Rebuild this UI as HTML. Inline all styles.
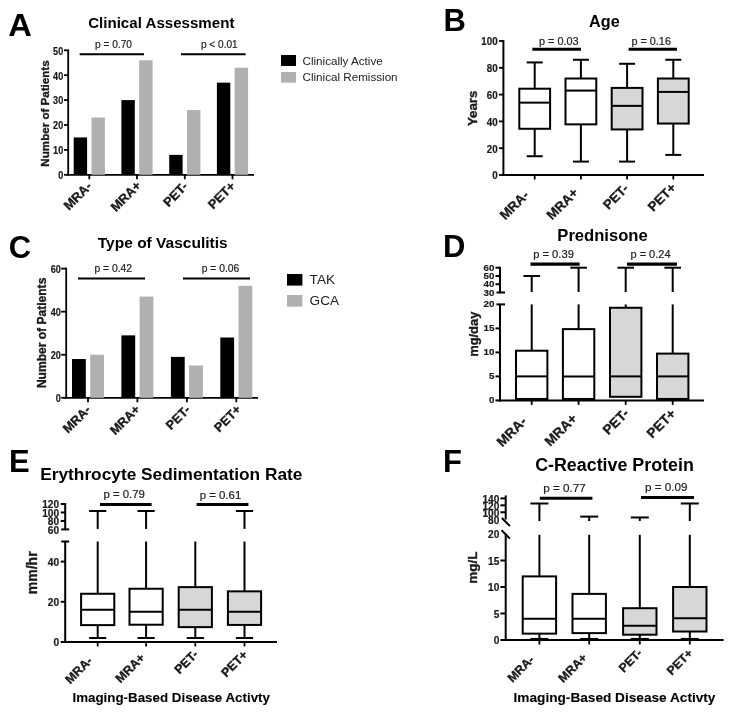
<!DOCTYPE html>
<html><head><meta charset="utf-8"><style>
html,body{margin:0;padding:0;background:#fff;}
svg{display:block;font-family:"Liberation Sans", sans-serif;-webkit-font-smoothing:antialiased;will-change:transform;}
</style></head><body>
<svg width="733" height="715" viewBox="0 0 733 715">
<rect x="0" y="0" width="733" height="715" fill="#fff"/>
<text transform="translate(8.3 36.2) scale(1.055 1)" font-size="31" font-weight="bold" fill="#000">A</text>
<text x="161.30" y="27.60" font-size="15.1" font-weight="bold" text-anchor="middle" fill="#000">Clinical Assessment</text>
<line x1="68.20" y1="49.40" x2="68.20" y2="175.70" stroke="#000" stroke-width="1.8"/>
<line x1="67.30" y1="174.80" x2="254.00" y2="174.80" stroke="#000" stroke-width="1.8"/>
<line x1="64.00" y1="50.30" x2="68.20" y2="50.30" stroke="#000" stroke-width="1.8"/>
<text transform="translate(63.20 54.60) scale(0.91 1)" font-size="10.0" font-weight="bold" text-anchor="end" fill="#1a1a1a" stroke="#1a1a1a" stroke-width="0.2">50</text>
<line x1="64.00" y1="75.20" x2="68.20" y2="75.20" stroke="#000" stroke-width="1.8"/>
<text transform="translate(63.20 79.50) scale(0.91 1)" font-size="10.0" font-weight="bold" text-anchor="end" fill="#1a1a1a" stroke="#1a1a1a" stroke-width="0.2">40</text>
<line x1="64.00" y1="100.10" x2="68.20" y2="100.10" stroke="#000" stroke-width="1.8"/>
<text transform="translate(63.20 104.40) scale(0.91 1)" font-size="10.0" font-weight="bold" text-anchor="end" fill="#1a1a1a" stroke="#1a1a1a" stroke-width="0.2">30</text>
<line x1="64.00" y1="125.00" x2="68.20" y2="125.00" stroke="#000" stroke-width="1.8"/>
<text transform="translate(63.20 129.30) scale(0.91 1)" font-size="10.0" font-weight="bold" text-anchor="end" fill="#1a1a1a" stroke="#1a1a1a" stroke-width="0.2">20</text>
<line x1="64.00" y1="149.90" x2="68.20" y2="149.90" stroke="#000" stroke-width="1.8"/>
<text transform="translate(63.20 154.20) scale(0.91 1)" font-size="10.0" font-weight="bold" text-anchor="end" fill="#1a1a1a" stroke="#1a1a1a" stroke-width="0.2">10</text>
<line x1="64.00" y1="174.80" x2="68.20" y2="174.80" stroke="#000" stroke-width="1.8"/>
<text transform="translate(63.20 179.10) scale(0.91 1)" font-size="10.0" font-weight="bold" text-anchor="end" fill="#1a1a1a" stroke="#1a1a1a" stroke-width="0.2">0</text>
<text x="49.20" y="113.50" font-size="11.6" font-weight="bold" text-anchor="middle" fill="#1a1a1a" stroke="#1a1a1a" stroke-width="0.35" transform="rotate(-90 49.20 113.50)">Number of Patients</text>
<rect x="73.70" y="137.45" width="13.40" height="37.35" fill="#000"/>
<rect x="91.50" y="117.53" width="13.40" height="57.27" fill="#b0b0b2"/>
<rect x="121.40" y="100.10" width="13.40" height="74.70" fill="#000"/>
<rect x="139.20" y="60.26" width="13.40" height="114.54" fill="#b0b0b2"/>
<rect x="169.20" y="154.88" width="13.40" height="19.92" fill="#000"/>
<rect x="187.00" y="110.06" width="13.40" height="64.74" fill="#b0b0b2"/>
<rect x="216.90" y="82.67" width="13.40" height="92.13" fill="#000"/>
<rect x="234.70" y="67.73" width="13.40" height="107.07" fill="#b0b0b2"/>
<line x1="89.30" y1="174.80" x2="89.30" y2="179.30" stroke="#000" stroke-width="1.8"/>
<text x="92.60" y="187.10" font-size="12.8" font-weight="bold" text-anchor="end" fill="#1a1a1a" stroke="#1a1a1a" stroke-width="0.35" transform="rotate(-45 92.60 187.10)">MRA-</text>
<line x1="137.00" y1="174.80" x2="137.00" y2="179.30" stroke="#000" stroke-width="1.8"/>
<text x="141.80" y="186.40" font-size="12.8" font-weight="bold" text-anchor="end" fill="#1a1a1a" stroke="#1a1a1a" stroke-width="0.35" transform="rotate(-45 141.80 186.40)">MRA+</text>
<line x1="184.80" y1="174.80" x2="184.80" y2="179.30" stroke="#000" stroke-width="1.8"/>
<text x="188.50" y="187.30" font-size="12.8" font-weight="bold" text-anchor="end" fill="#1a1a1a" stroke="#1a1a1a" stroke-width="0.35" transform="rotate(-45 188.50 187.30)">PET-</text>
<line x1="232.50" y1="174.80" x2="232.50" y2="179.30" stroke="#000" stroke-width="1.8"/>
<text x="236.10" y="186.90" font-size="12.8" font-weight="bold" text-anchor="end" fill="#1a1a1a" stroke="#1a1a1a" stroke-width="0.35" transform="rotate(-45 236.10 186.90)">PET+</text>
<line x1="79.60" y1="54.20" x2="144.00" y2="54.20" stroke="#000" stroke-width="2"/>
<line x1="181.00" y1="54.20" x2="245.60" y2="54.20" stroke="#000" stroke-width="2"/>
<text x="113.50" y="47.90" font-size="10.1" font-weight="normal" text-anchor="middle" fill="#222" stroke="#222" stroke-width="0.2">p = 0.70</text>
<text x="219.30" y="47.90" font-size="10.1" font-weight="normal" text-anchor="middle" fill="#222" stroke="#222" stroke-width="0.2">p &lt; 0.01</text>
<rect x="281.00" y="55.00" width="15.00" height="11.00" fill="#000"/>
<rect x="281.00" y="72.00" width="15.00" height="10.60" fill="#b0b0b2"/>
<text x="302.50" y="65.00" font-size="11.65" font-weight="normal" text-anchor="start" fill="#222">Clinically Active</text>
<text x="302.50" y="81.20" font-size="11.65" font-weight="normal" text-anchor="start" fill="#222">Clinical Remission</text>
<text x="443.50" y="31.20" font-size="31" font-weight="bold" text-anchor="start" fill="#000">B</text>
<text x="604.40" y="26.60" font-size="16.2" font-weight="bold" text-anchor="middle" fill="#000">Age</text>
<line x1="503.40" y1="40.10" x2="503.40" y2="175.90" stroke="#000" stroke-width="2"/>
<line x1="502.40" y1="175.00" x2="704.00" y2="175.00" stroke="#000" stroke-width="2"/>
<line x1="499.00" y1="41.00" x2="503.40" y2="41.00" stroke="#000" stroke-width="1.8"/>
<text transform="translate(497.70 45.30) scale(0.98 1)" font-size="10.0" font-weight="bold" text-anchor="end" fill="#1a1a1a" stroke="#1a1a1a" stroke-width="0.2">100</text>
<line x1="499.00" y1="67.80" x2="503.40" y2="67.80" stroke="#000" stroke-width="1.8"/>
<text transform="translate(497.70 72.10) scale(0.98 1)" font-size="10.0" font-weight="bold" text-anchor="end" fill="#1a1a1a" stroke="#1a1a1a" stroke-width="0.2">80</text>
<line x1="499.00" y1="94.60" x2="503.40" y2="94.60" stroke="#000" stroke-width="1.8"/>
<text transform="translate(497.70 98.90) scale(0.98 1)" font-size="10.0" font-weight="bold" text-anchor="end" fill="#1a1a1a" stroke="#1a1a1a" stroke-width="0.2">60</text>
<line x1="499.00" y1="121.40" x2="503.40" y2="121.40" stroke="#000" stroke-width="1.8"/>
<text transform="translate(497.70 125.70) scale(0.98 1)" font-size="10.0" font-weight="bold" text-anchor="end" fill="#1a1a1a" stroke="#1a1a1a" stroke-width="0.2">40</text>
<line x1="499.00" y1="148.20" x2="503.40" y2="148.20" stroke="#000" stroke-width="1.8"/>
<text transform="translate(497.70 152.50) scale(0.98 1)" font-size="10.0" font-weight="bold" text-anchor="end" fill="#1a1a1a" stroke="#1a1a1a" stroke-width="0.2">20</text>
<line x1="499.00" y1="175.00" x2="503.40" y2="175.00" stroke="#000" stroke-width="1.8"/>
<text transform="translate(497.70 179.30) scale(0.98 1)" font-size="10.0" font-weight="bold" text-anchor="end" fill="#1a1a1a" stroke="#1a1a1a" stroke-width="0.2">0</text>
<text x="477.20" y="108.30" font-size="13.3" font-weight="bold" text-anchor="middle" fill="#1a1a1a" stroke="#1a1a1a" stroke-width="0.35" transform="rotate(-90 477.20 108.30)">Years</text>
<line x1="534.70" y1="88.70" x2="534.70" y2="62.44" stroke="#000" stroke-width="2"/>
<line x1="526.70" y1="62.44" x2="542.70" y2="62.44" stroke="#000" stroke-width="2"/>
<line x1="534.70" y1="128.77" x2="534.70" y2="156.24" stroke="#000" stroke-width="2"/>
<line x1="526.70" y1="156.24" x2="542.70" y2="156.24" stroke="#000" stroke-width="2"/>
<rect x="519.30" y="88.70" width="30.80" height="40.07" fill="#fff" stroke="#000" stroke-width="2.0"/>
<line x1="519.30" y1="102.64" x2="550.10" y2="102.64" stroke="#000" stroke-width="2.0"/>
<line x1="580.90" y1="78.52" x2="580.90" y2="59.76" stroke="#000" stroke-width="2"/>
<line x1="572.90" y1="59.76" x2="588.90" y2="59.76" stroke="#000" stroke-width="2"/>
<line x1="580.90" y1="124.35" x2="580.90" y2="161.60" stroke="#000" stroke-width="2"/>
<line x1="572.90" y1="161.60" x2="588.90" y2="161.60" stroke="#000" stroke-width="2"/>
<rect x="565.50" y="78.52" width="30.80" height="45.83" fill="#fff" stroke="#000" stroke-width="2.0"/>
<line x1="565.50" y1="90.58" x2="596.30" y2="90.58" stroke="#000" stroke-width="2.0"/>
<line x1="627.10" y1="87.90" x2="627.10" y2="63.78" stroke="#000" stroke-width="2"/>
<line x1="619.10" y1="63.78" x2="635.10" y2="63.78" stroke="#000" stroke-width="2"/>
<line x1="627.10" y1="129.44" x2="627.10" y2="161.60" stroke="#000" stroke-width="2"/>
<line x1="619.10" y1="161.60" x2="635.10" y2="161.60" stroke="#000" stroke-width="2"/>
<rect x="611.70" y="87.90" width="30.80" height="41.54" fill="#d7d7d7" stroke="#000" stroke-width="2.0"/>
<line x1="611.70" y1="105.86" x2="642.50" y2="105.86" stroke="#000" stroke-width="2.0"/>
<line x1="673.30" y1="78.52" x2="673.30" y2="59.76" stroke="#000" stroke-width="2"/>
<line x1="665.30" y1="59.76" x2="681.30" y2="59.76" stroke="#000" stroke-width="2"/>
<line x1="673.30" y1="123.54" x2="673.30" y2="154.90" stroke="#000" stroke-width="2"/>
<line x1="665.30" y1="154.90" x2="681.30" y2="154.90" stroke="#000" stroke-width="2"/>
<rect x="657.90" y="78.52" width="30.80" height="45.02" fill="#d7d7d7" stroke="#000" stroke-width="2.0"/>
<line x1="657.90" y1="91.92" x2="688.70" y2="91.92" stroke="#000" stroke-width="2.0"/>
<line x1="534.70" y1="175.00" x2="534.70" y2="179.50" stroke="#000" stroke-width="1.8"/>
<text x="529.70" y="196.00" font-size="13.3" font-weight="bold" text-anchor="end" fill="#1a1a1a" stroke="#1a1a1a" stroke-width="0.35" transform="rotate(-45 529.70 196.00)">MRA-</text>
<line x1="580.90" y1="175.00" x2="580.90" y2="179.50" stroke="#000" stroke-width="1.8"/>
<text x="579.00" y="193.60" font-size="13.3" font-weight="bold" text-anchor="end" fill="#1a1a1a" stroke="#1a1a1a" stroke-width="0.35" transform="rotate(-45 579.00 193.60)">MRA+</text>
<line x1="627.10" y1="175.00" x2="627.10" y2="179.50" stroke="#000" stroke-width="1.8"/>
<text x="629.40" y="189.40" font-size="13.3" font-weight="bold" text-anchor="end" fill="#1a1a1a" stroke="#1a1a1a" stroke-width="0.35" transform="rotate(-45 629.40 189.40)">PET-</text>
<line x1="673.30" y1="175.00" x2="673.30" y2="179.50" stroke="#000" stroke-width="1.8"/>
<text x="677.10" y="188.40" font-size="13.3" font-weight="bold" text-anchor="end" fill="#1a1a1a" stroke="#1a1a1a" stroke-width="0.35" transform="rotate(-45 677.10 188.40)">PET+</text>
<line x1="532.40" y1="49.30" x2="581.00" y2="49.30" stroke="#000" stroke-width="3"/>
<line x1="628.60" y1="49.30" x2="677.00" y2="49.30" stroke="#000" stroke-width="3"/>
<text x="558.80" y="44.50" font-size="10.85" font-weight="normal" text-anchor="middle" fill="#222" stroke="#222" stroke-width="0.2">p = 0.03</text>
<text x="651.20" y="44.50" font-size="10.85" font-weight="normal" text-anchor="middle" fill="#222" stroke="#222" stroke-width="0.2">p = 0.16</text>
<text x="8.70" y="258.20" font-size="31" font-weight="bold" text-anchor="start" fill="#000">C</text>
<text x="162.70" y="247.60" font-size="15.5" font-weight="bold" text-anchor="middle" fill="#000">Type of Vasculitis</text>
<line x1="66.20" y1="267.70" x2="66.20" y2="398.70" stroke="#000" stroke-width="1.8"/>
<line x1="65.30" y1="397.80" x2="258.00" y2="397.80" stroke="#000" stroke-width="1.8"/>
<line x1="61.20" y1="268.60" x2="66.20" y2="268.60" stroke="#000" stroke-width="1.8"/>
<text transform="translate(60.80 272.90) scale(0.91 1)" font-size="10.0" font-weight="bold" text-anchor="end" fill="#1a1a1a" stroke="#1a1a1a" stroke-width="0.2">60</text>
<line x1="61.20" y1="311.67" x2="66.20" y2="311.67" stroke="#000" stroke-width="1.8"/>
<text transform="translate(60.80 315.97) scale(0.91 1)" font-size="10.0" font-weight="bold" text-anchor="end" fill="#1a1a1a" stroke="#1a1a1a" stroke-width="0.2">40</text>
<line x1="61.20" y1="354.73" x2="66.20" y2="354.73" stroke="#000" stroke-width="1.8"/>
<text transform="translate(60.80 359.03) scale(0.91 1)" font-size="10.0" font-weight="bold" text-anchor="end" fill="#1a1a1a" stroke="#1a1a1a" stroke-width="0.2">20</text>
<line x1="61.20" y1="397.80" x2="66.20" y2="397.80" stroke="#000" stroke-width="1.8"/>
<text transform="translate(60.80 402.10) scale(0.91 1)" font-size="10.0" font-weight="bold" text-anchor="end" fill="#1a1a1a" stroke="#1a1a1a" stroke-width="0.2">0</text>
<text x="46.50" y="332.90" font-size="12.05" font-weight="bold" text-anchor="middle" fill="#1a1a1a" stroke="#1a1a1a" stroke-width="0.35" transform="rotate(-90 46.50 332.90)">Number of Patients</text>
<rect x="72.00" y="359.04" width="13.80" height="38.76" fill="#000"/>
<rect x="90.20" y="354.73" width="13.80" height="43.07" fill="#b0b0b2"/>
<rect x="121.40" y="335.35" width="13.80" height="62.45" fill="#000"/>
<rect x="139.60" y="296.59" width="13.80" height="101.21" fill="#b0b0b2"/>
<rect x="170.90" y="356.89" width="13.80" height="40.91" fill="#000"/>
<rect x="189.10" y="365.50" width="13.80" height="32.30" fill="#b0b0b2"/>
<rect x="220.30" y="337.51" width="13.80" height="60.29" fill="#000"/>
<rect x="238.50" y="285.83" width="13.80" height="111.97" fill="#b0b0b2"/>
<line x1="88.00" y1="397.80" x2="88.00" y2="402.30" stroke="#000" stroke-width="1.8"/>
<text x="91.30" y="410.60" font-size="12.6" font-weight="bold" text-anchor="end" fill="#1a1a1a" stroke="#1a1a1a" stroke-width="0.35" transform="rotate(-45 91.30 410.60)">MRA-</text>
<line x1="137.40" y1="397.80" x2="137.40" y2="402.30" stroke="#000" stroke-width="1.8"/>
<text x="140.70" y="410.10" font-size="12.6" font-weight="bold" text-anchor="end" fill="#1a1a1a" stroke="#1a1a1a" stroke-width="0.35" transform="rotate(-45 140.70 410.10)">MRA+</text>
<line x1="186.90" y1="397.80" x2="186.90" y2="402.30" stroke="#000" stroke-width="1.8"/>
<text x="190.90" y="410.60" font-size="12.6" font-weight="bold" text-anchor="end" fill="#1a1a1a" stroke="#1a1a1a" stroke-width="0.35" transform="rotate(-45 190.90 410.60)">PET-</text>
<line x1="236.30" y1="397.80" x2="236.30" y2="402.30" stroke="#000" stroke-width="1.8"/>
<text x="241.80" y="410.10" font-size="12.6" font-weight="bold" text-anchor="end" fill="#1a1a1a" stroke="#1a1a1a" stroke-width="0.35" transform="rotate(-45 241.80 410.10)">PET+</text>
<line x1="78.00" y1="278.50" x2="145.00" y2="278.50" stroke="#000" stroke-width="2"/>
<line x1="183.00" y1="278.50" x2="250.00" y2="278.50" stroke="#000" stroke-width="2"/>
<text x="113.20" y="272.40" font-size="10.3" font-weight="normal" text-anchor="middle" fill="#222" stroke="#222" stroke-width="0.2">p = 0.42</text>
<text x="220.50" y="272.40" font-size="10.3" font-weight="normal" text-anchor="middle" fill="#222" stroke="#222" stroke-width="0.2">p = 0.06</text>
<rect x="287.00" y="274.00" width="15.40" height="11.60" fill="#000"/>
<rect x="287.00" y="295.00" width="15.40" height="11.60" fill="#b0b0b2"/>
<text x="309.60" y="284.40" font-size="13.6" font-weight="normal" text-anchor="start" fill="#222">TAK</text>
<text x="309.60" y="305.40" font-size="13.6" font-weight="normal" text-anchor="start" fill="#222">GCA</text>
<text x="443.00" y="257.20" font-size="31" font-weight="bold" text-anchor="start" fill="#000">D</text>
<text x="602.50" y="240.50" font-size="16.6" font-weight="bold" text-anchor="middle" fill="#000">Prednisone</text>
<line x1="500.00" y1="266.80" x2="500.00" y2="292.50" stroke="#000" stroke-width="2"/>
<line x1="496.50" y1="292.50" x2="505.00" y2="292.50" stroke="#000" stroke-width="2"/>
<line x1="500.00" y1="304.40" x2="500.00" y2="401.40" stroke="#000" stroke-width="2"/>
<line x1="496.50" y1="304.40" x2="505.00" y2="304.40" stroke="#000" stroke-width="2"/>
<line x1="499.00" y1="400.40" x2="704.00" y2="400.40" stroke="#000" stroke-width="2"/>
<line x1="495.50" y1="267.70" x2="500.00" y2="267.70" stroke="#000" stroke-width="2"/>
<line x1="495.50" y1="275.97" x2="500.00" y2="275.97" stroke="#000" stroke-width="2"/>
<line x1="495.50" y1="284.23" x2="500.00" y2="284.23" stroke="#000" stroke-width="2"/>
<text transform="translate(494.40 270.73) scale(1.0 1)" font-size="9.8" font-weight="bold" text-anchor="end" fill="#1a1a1a" stroke="#1a1a1a" stroke-width="0.2">60</text>
<text transform="translate(494.40 278.99) scale(1.0 1)" font-size="9.8" font-weight="bold" text-anchor="end" fill="#1a1a1a" stroke="#1a1a1a" stroke-width="0.2">50</text>
<text transform="translate(494.40 287.26) scale(1.0 1)" font-size="9.8" font-weight="bold" text-anchor="end" fill="#1a1a1a" stroke="#1a1a1a" stroke-width="0.2">40</text>
<text transform="translate(494.40 295.53) scale(1.0 1)" font-size="9.8" font-weight="bold" text-anchor="end" fill="#1a1a1a" stroke="#1a1a1a" stroke-width="0.2">30</text>
<line x1="495.50" y1="328.40" x2="500.00" y2="328.40" stroke="#000" stroke-width="2"/>
<line x1="495.50" y1="352.40" x2="500.00" y2="352.40" stroke="#000" stroke-width="2"/>
<line x1="495.50" y1="376.40" x2="500.00" y2="376.40" stroke="#000" stroke-width="2"/>
<line x1="495.50" y1="400.40" x2="500.00" y2="400.40" stroke="#000" stroke-width="2"/>
<text transform="translate(494.40 307.43) scale(1.0 1)" font-size="9.8" font-weight="bold" text-anchor="end" fill="#1a1a1a" stroke="#1a1a1a" stroke-width="0.2">20</text>
<text transform="translate(494.40 331.43) scale(1.0 1)" font-size="9.8" font-weight="bold" text-anchor="end" fill="#1a1a1a" stroke="#1a1a1a" stroke-width="0.2">15</text>
<text transform="translate(494.40 355.43) scale(1.0 1)" font-size="9.8" font-weight="bold" text-anchor="end" fill="#1a1a1a" stroke="#1a1a1a" stroke-width="0.2">10</text>
<text transform="translate(494.40 379.43) scale(1.0 1)" font-size="9.8" font-weight="bold" text-anchor="end" fill="#1a1a1a" stroke="#1a1a1a" stroke-width="0.2">5</text>
<text transform="translate(494.40 403.43) scale(1.0 1)" font-size="9.8" font-weight="bold" text-anchor="end" fill="#1a1a1a" stroke="#1a1a1a" stroke-width="0.2">0</text>
<text x="478.10" y="334.25" font-size="12.9" font-weight="bold" text-anchor="middle" fill="#1a1a1a" stroke="#1a1a1a" stroke-width="0.35" transform="rotate(-90 478.10 334.25)">mg/day</text>
<line x1="531.70" y1="350.72" x2="531.70" y2="304.40" stroke="#000" stroke-width="2"/>
<line x1="531.70" y1="292.00" x2="531.70" y2="275.97" stroke="#000" stroke-width="2"/>
<line x1="523.40" y1="275.97" x2="540.00" y2="275.97" stroke="#000" stroke-width="2"/>
<rect x="516.00" y="350.72" width="31.40" height="48.24" fill="#fff" stroke="#000" stroke-width="2.0"/>
<line x1="516.00" y1="376.40" x2="547.40" y2="376.40" stroke="#000" stroke-width="2.0"/>
<line x1="578.60" y1="329.12" x2="578.60" y2="304.40" stroke="#000" stroke-width="2"/>
<line x1="578.60" y1="292.00" x2="578.60" y2="267.70" stroke="#000" stroke-width="2"/>
<line x1="570.30" y1="267.70" x2="586.90" y2="267.70" stroke="#000" stroke-width="2"/>
<rect x="562.90" y="329.12" width="31.40" height="69.84" fill="#fff" stroke="#000" stroke-width="2.0"/>
<line x1="562.90" y1="376.40" x2="594.30" y2="376.40" stroke="#000" stroke-width="2.0"/>
<line x1="625.70" y1="307.76" x2="625.70" y2="304.40" stroke="#000" stroke-width="2"/>
<line x1="625.70" y1="292.00" x2="625.70" y2="267.70" stroke="#000" stroke-width="2"/>
<line x1="617.40" y1="267.70" x2="634.00" y2="267.70" stroke="#000" stroke-width="2"/>
<rect x="610.00" y="307.76" width="31.40" height="89.04" fill="#d7d7d7" stroke="#000" stroke-width="2.0"/>
<line x1="610.00" y1="376.40" x2="641.40" y2="376.40" stroke="#000" stroke-width="2.0"/>
<line x1="672.70" y1="353.60" x2="672.70" y2="304.40" stroke="#000" stroke-width="2"/>
<line x1="672.70" y1="292.00" x2="672.70" y2="267.70" stroke="#000" stroke-width="2"/>
<line x1="664.40" y1="267.70" x2="681.00" y2="267.70" stroke="#000" stroke-width="2"/>
<rect x="657.00" y="353.60" width="31.40" height="45.36" fill="#d7d7d7" stroke="#000" stroke-width="2.0"/>
<line x1="657.00" y1="376.40" x2="688.40" y2="376.40" stroke="#000" stroke-width="2.0"/>
<line x1="531.70" y1="400.40" x2="531.70" y2="404.90" stroke="#000" stroke-width="1.8"/>
<text x="527.40" y="422.40" font-size="13.6" font-weight="bold" text-anchor="end" fill="#1a1a1a" stroke="#1a1a1a" stroke-width="0.35" transform="rotate(-45 527.40 422.40)">MRA-</text>
<line x1="578.60" y1="400.40" x2="578.60" y2="404.90" stroke="#000" stroke-width="1.8"/>
<text x="577.80" y="419.50" font-size="13.6" font-weight="bold" text-anchor="end" fill="#1a1a1a" stroke="#1a1a1a" stroke-width="0.35" transform="rotate(-45 577.80 419.50)">MRA+</text>
<line x1="625.70" y1="400.40" x2="625.70" y2="404.90" stroke="#000" stroke-width="1.8"/>
<text x="629.70" y="414.20" font-size="13.6" font-weight="bold" text-anchor="end" fill="#1a1a1a" stroke="#1a1a1a" stroke-width="0.35" transform="rotate(-45 629.70 414.20)">PET-</text>
<line x1="672.70" y1="400.40" x2="672.70" y2="404.90" stroke="#000" stroke-width="1.8"/>
<text x="676.70" y="414.60" font-size="13.6" font-weight="bold" text-anchor="end" fill="#1a1a1a" stroke="#1a1a1a" stroke-width="0.35" transform="rotate(-45 676.70 414.60)">PET+</text>
<line x1="530.50" y1="264.20" x2="579.60" y2="264.20" stroke="#000" stroke-width="3.2"/>
<line x1="627.00" y1="264.20" x2="677.00" y2="264.20" stroke="#000" stroke-width="3.2"/>
<text x="553.50" y="258.40" font-size="11.2" font-weight="normal" text-anchor="middle" fill="#222" stroke="#222" stroke-width="0.2">p = 0.39</text>
<text x="650.50" y="258.30" font-size="11" font-weight="normal" text-anchor="middle" fill="#222" stroke="#222" stroke-width="0.2">p = 0.24</text>
<text x="9.00" y="472.40" font-size="31" font-weight="bold" text-anchor="start" fill="#000">E</text>
<text x="171.30" y="480.00" font-size="17.3" font-weight="bold" text-anchor="middle" fill="#000">Erythrocyte Sedimentation Rate</text>
<line x1="65.20" y1="503.10" x2="65.20" y2="529.40" stroke="#000" stroke-width="2"/>
<line x1="61.20" y1="529.40" x2="69.20" y2="529.40" stroke="#000" stroke-width="2"/>
<line x1="65.20" y1="541.50" x2="65.20" y2="643.00" stroke="#000" stroke-width="2"/>
<line x1="61.20" y1="541.50" x2="69.20" y2="541.50" stroke="#000" stroke-width="2"/>
<line x1="64.20" y1="642.00" x2="277.00" y2="642.00" stroke="#000" stroke-width="2"/>
<line x1="60.70" y1="504.00" x2="65.20" y2="504.00" stroke="#000" stroke-width="2"/>
<line x1="60.70" y1="512.47" x2="65.20" y2="512.47" stroke="#000" stroke-width="2"/>
<line x1="60.70" y1="520.93" x2="65.20" y2="520.93" stroke="#000" stroke-width="2"/>
<text transform="translate(59.00 508.34) scale(1.0 1)" font-size="10.1" font-weight="bold" text-anchor="end" fill="#1a1a1a" stroke="#1a1a1a" stroke-width="0.2">120</text>
<text transform="translate(59.00 516.80) scale(1.0 1)" font-size="10.1" font-weight="bold" text-anchor="end" fill="#1a1a1a" stroke="#1a1a1a" stroke-width="0.2">100</text>
<text transform="translate(59.00 525.27) scale(1.0 1)" font-size="10.1" font-weight="bold" text-anchor="end" fill="#1a1a1a" stroke="#1a1a1a" stroke-width="0.2">80</text>
<text transform="translate(59.00 533.74) scale(1.0 1)" font-size="10.1" font-weight="bold" text-anchor="end" fill="#1a1a1a" stroke="#1a1a1a" stroke-width="0.2">60</text>
<line x1="60.70" y1="561.60" x2="65.20" y2="561.60" stroke="#000" stroke-width="2"/>
<text transform="translate(59.00 565.94) scale(1.0 1)" font-size="10.1" font-weight="bold" text-anchor="end" fill="#1a1a1a" stroke="#1a1a1a" stroke-width="0.2">40</text>
<line x1="60.70" y1="601.80" x2="65.20" y2="601.80" stroke="#000" stroke-width="2"/>
<text transform="translate(59.00 606.14) scale(1.0 1)" font-size="10.1" font-weight="bold" text-anchor="end" fill="#1a1a1a" stroke="#1a1a1a" stroke-width="0.2">20</text>
<line x1="60.70" y1="642.00" x2="65.20" y2="642.00" stroke="#000" stroke-width="2"/>
<text transform="translate(59.00 646.34) scale(1.0 1)" font-size="10.1" font-weight="bold" text-anchor="end" fill="#1a1a1a" stroke="#1a1a1a" stroke-width="0.2">0</text>
<text x="37.30" y="572.80" font-size="14" font-weight="bold" text-anchor="middle" fill="#1a1a1a" stroke="#1a1a1a" stroke-width="0.35" transform="rotate(-90 37.30 572.80)">mm/hr</text>
<line x1="97.70" y1="593.76" x2="97.70" y2="541.50" stroke="#000" stroke-width="2"/>
<line x1="97.70" y1="528.90" x2="97.70" y2="510.99" stroke="#000" stroke-width="2"/>
<line x1="89.10" y1="510.99" x2="106.30" y2="510.99" stroke="#000" stroke-width="2"/>
<line x1="97.70" y1="625.12" x2="97.70" y2="637.98" stroke="#000" stroke-width="2"/>
<line x1="89.10" y1="637.98" x2="106.30" y2="637.98" stroke="#000" stroke-width="2"/>
<rect x="81.10" y="593.76" width="33.20" height="31.36" fill="#fff" stroke="#000" stroke-width="2.0"/>
<line x1="81.10" y1="609.84" x2="114.30" y2="609.84" stroke="#000" stroke-width="2.0"/>
<line x1="146.10" y1="588.74" x2="146.10" y2="541.50" stroke="#000" stroke-width="2"/>
<line x1="146.10" y1="528.90" x2="146.10" y2="510.99" stroke="#000" stroke-width="2"/>
<line x1="137.50" y1="510.99" x2="154.70" y2="510.99" stroke="#000" stroke-width="2"/>
<line x1="146.10" y1="624.71" x2="146.10" y2="637.98" stroke="#000" stroke-width="2"/>
<line x1="137.50" y1="637.98" x2="154.70" y2="637.98" stroke="#000" stroke-width="2"/>
<rect x="129.50" y="588.74" width="33.20" height="35.98" fill="#fff" stroke="#000" stroke-width="2.0"/>
<line x1="129.50" y1="611.85" x2="162.70" y2="611.85" stroke="#000" stroke-width="2.0"/>
<line x1="195.30" y1="587.13" x2="195.30" y2="541.50" stroke="#000" stroke-width="2"/>
<line x1="195.30" y1="627.13" x2="195.30" y2="637.98" stroke="#000" stroke-width="2"/>
<line x1="186.70" y1="637.98" x2="203.90" y2="637.98" stroke="#000" stroke-width="2"/>
<rect x="178.70" y="587.13" width="33.20" height="40.00" fill="#d7d7d7" stroke="#000" stroke-width="2.0"/>
<line x1="178.70" y1="609.84" x2="211.90" y2="609.84" stroke="#000" stroke-width="2.0"/>
<line x1="244.50" y1="591.35" x2="244.50" y2="541.50" stroke="#000" stroke-width="2"/>
<line x1="244.50" y1="528.90" x2="244.50" y2="510.99" stroke="#000" stroke-width="2"/>
<line x1="235.90" y1="510.99" x2="253.10" y2="510.99" stroke="#000" stroke-width="2"/>
<line x1="244.50" y1="624.91" x2="244.50" y2="637.98" stroke="#000" stroke-width="2"/>
<line x1="235.90" y1="637.98" x2="253.10" y2="637.98" stroke="#000" stroke-width="2"/>
<rect x="227.90" y="591.35" width="33.20" height="33.57" fill="#d7d7d7" stroke="#000" stroke-width="2.0"/>
<line x1="227.90" y1="611.85" x2="261.10" y2="611.85" stroke="#000" stroke-width="2.0"/>
<line x1="97.70" y1="642.00" x2="97.70" y2="646.50" stroke="#000" stroke-width="1.8"/>
<text x="93.20" y="661.50" font-size="12.4" font-weight="bold" text-anchor="end" fill="#1a1a1a" stroke="#1a1a1a" stroke-width="0.35" transform="rotate(-45 93.20 661.50)">MRA-</text>
<line x1="146.10" y1="642.00" x2="146.10" y2="646.50" stroke="#000" stroke-width="1.8"/>
<text x="145.70" y="658.50" font-size="12.4" font-weight="bold" text-anchor="end" fill="#1a1a1a" stroke="#1a1a1a" stroke-width="0.35" transform="rotate(-45 145.70 658.50)">MRA+</text>
<line x1="195.30" y1="642.00" x2="195.30" y2="646.50" stroke="#000" stroke-width="1.8"/>
<text x="199.00" y="655.00" font-size="12.4" font-weight="bold" text-anchor="end" fill="#1a1a1a" stroke="#1a1a1a" stroke-width="0.35" transform="rotate(-45 199.00 655.00)">PET-</text>
<line x1="244.50" y1="642.00" x2="244.50" y2="646.50" stroke="#000" stroke-width="1.8"/>
<text x="248.40" y="655.50" font-size="12.4" font-weight="bold" text-anchor="end" fill="#1a1a1a" stroke="#1a1a1a" stroke-width="0.35" transform="rotate(-45 248.40 655.50)">PET+</text>
<line x1="100.00" y1="504.40" x2="151.60" y2="504.40" stroke="#000" stroke-width="3"/>
<line x1="196.60" y1="504.40" x2="248.40" y2="504.40" stroke="#000" stroke-width="3"/>
<text x="124.20" y="498.40" font-size="11.4" font-weight="normal" text-anchor="middle" fill="#222" stroke="#222" stroke-width="0.2">p = 0.79</text>
<text x="220.50" y="498.80" font-size="11.4" font-weight="normal" text-anchor="middle" fill="#222" stroke="#222" stroke-width="0.2">p = 0.61</text>
<text x="171.20" y="702.40" font-size="13.35" font-weight="bold" text-anchor="middle" fill="#000" stroke="#000" stroke-width="0.1">Imaging-Based Disease Activty</text>
<text x="443.00" y="472.40" font-size="31" font-weight="bold" text-anchor="start" fill="#000">F</text>
<text x="614.50" y="470.60" font-size="17.85" font-weight="bold" text-anchor="middle" fill="#000">C-Reactive Protein</text>
<line x1="505.70" y1="495.40" x2="505.70" y2="519.50" stroke="#000" stroke-width="2"/>
<line x1="501.90" y1="518.00" x2="509.90" y2="526.00" stroke="#000" stroke-width="2"/>
<line x1="501.50" y1="530.20" x2="509.90" y2="538.60" stroke="#000" stroke-width="2"/>
<line x1="505.70" y1="534.50" x2="505.70" y2="641.00" stroke="#000" stroke-width="2"/>
<line x1="504.70" y1="640.00" x2="723.60" y2="640.00" stroke="#000" stroke-width="2"/>
<line x1="500.40" y1="498.40" x2="505.70" y2="498.40" stroke="#000" stroke-width="2"/>
<text transform="translate(499.30 502.74) scale(1.0 1)" font-size="10.1" font-weight="bold" text-anchor="end" fill="#1a1a1a" stroke="#1a1a1a" stroke-width="0.2">140</text>
<line x1="500.40" y1="505.33" x2="505.70" y2="505.33" stroke="#000" stroke-width="2"/>
<text transform="translate(499.30 509.67) scale(1.0 1)" font-size="10.1" font-weight="bold" text-anchor="end" fill="#1a1a1a" stroke="#1a1a1a" stroke-width="0.2">120</text>
<line x1="500.40" y1="512.27" x2="505.70" y2="512.27" stroke="#000" stroke-width="2"/>
<text transform="translate(499.30 516.60) scale(1.0 1)" font-size="10.1" font-weight="bold" text-anchor="end" fill="#1a1a1a" stroke="#1a1a1a" stroke-width="0.2">100</text>
<text transform="translate(499.30 523.54) scale(1.0 1)" font-size="10.1" font-weight="bold" text-anchor="end" fill="#1a1a1a" stroke="#1a1a1a" stroke-width="0.2">80</text>
<text transform="translate(499.30 538.34) scale(1.0 1)" font-size="10.1" font-weight="bold" text-anchor="end" fill="#1a1a1a" stroke="#1a1a1a" stroke-width="0.2">20</text>
<line x1="500.40" y1="560.50" x2="505.70" y2="560.50" stroke="#000" stroke-width="2"/>
<text transform="translate(499.30 564.84) scale(1.0 1)" font-size="10.1" font-weight="bold" text-anchor="end" fill="#1a1a1a" stroke="#1a1a1a" stroke-width="0.2">15</text>
<line x1="500.40" y1="587.00" x2="505.70" y2="587.00" stroke="#000" stroke-width="2"/>
<text transform="translate(499.30 591.34) scale(1.0 1)" font-size="10.1" font-weight="bold" text-anchor="end" fill="#1a1a1a" stroke="#1a1a1a" stroke-width="0.2">10</text>
<line x1="500.40" y1="613.50" x2="505.70" y2="613.50" stroke="#000" stroke-width="2"/>
<text transform="translate(499.30 617.84) scale(1.0 1)" font-size="10.1" font-weight="bold" text-anchor="end" fill="#1a1a1a" stroke="#1a1a1a" stroke-width="0.2">5</text>
<line x1="500.40" y1="640.00" x2="505.70" y2="640.00" stroke="#000" stroke-width="2"/>
<text transform="translate(499.30 644.34) scale(1.0 1)" font-size="10.1" font-weight="bold" text-anchor="end" fill="#1a1a1a" stroke="#1a1a1a" stroke-width="0.2">0</text>
<text x="476.60" y="567.50" font-size="13.5" font-weight="bold" text-anchor="middle" fill="#1a1a1a" stroke="#1a1a1a" stroke-width="0.35" transform="rotate(-90 476.60 567.50)">mg/L</text>
<line x1="539.40" y1="576.40" x2="539.40" y2="534.80" stroke="#000" stroke-width="2"/>
<line x1="539.40" y1="521.00" x2="539.40" y2="503.50" stroke="#000" stroke-width="2"/>
<line x1="530.40" y1="503.50" x2="548.40" y2="503.50" stroke="#000" stroke-width="2"/>
<line x1="539.40" y1="633.64" x2="539.40" y2="638.94" stroke="#000" stroke-width="2"/>
<line x1="530.40" y1="638.94" x2="548.40" y2="638.94" stroke="#000" stroke-width="2"/>
<rect x="522.70" y="576.40" width="33.40" height="57.24" fill="#fff" stroke="#000" stroke-width="2.0"/>
<line x1="522.70" y1="618.80" x2="556.10" y2="618.80" stroke="#000" stroke-width="2.0"/>
<line x1="589.20" y1="593.89" x2="589.20" y2="534.80" stroke="#000" stroke-width="2"/>
<line x1="589.20" y1="521.00" x2="589.20" y2="516.60" stroke="#000" stroke-width="2"/>
<line x1="580.20" y1="516.60" x2="598.20" y2="516.60" stroke="#000" stroke-width="2"/>
<line x1="589.20" y1="633.11" x2="589.20" y2="638.94" stroke="#000" stroke-width="2"/>
<line x1="580.20" y1="638.94" x2="598.20" y2="638.94" stroke="#000" stroke-width="2"/>
<rect x="572.50" y="593.89" width="33.40" height="39.22" fill="#fff" stroke="#000" stroke-width="2.0"/>
<line x1="572.50" y1="618.80" x2="605.90" y2="618.80" stroke="#000" stroke-width="2.0"/>
<line x1="639.80" y1="608.20" x2="639.80" y2="534.80" stroke="#000" stroke-width="2"/>
<line x1="639.80" y1="521.00" x2="639.80" y2="517.47" stroke="#000" stroke-width="2"/>
<line x1="630.80" y1="517.47" x2="648.80" y2="517.47" stroke="#000" stroke-width="2"/>
<line x1="639.80" y1="634.70" x2="639.80" y2="638.94" stroke="#000" stroke-width="2"/>
<line x1="630.80" y1="638.94" x2="648.80" y2="638.94" stroke="#000" stroke-width="2"/>
<rect x="623.10" y="608.20" width="33.40" height="26.50" fill="#d7d7d7" stroke="#000" stroke-width="2.0"/>
<line x1="623.10" y1="625.69" x2="656.50" y2="625.69" stroke="#000" stroke-width="2.0"/>
<line x1="689.80" y1="587.00" x2="689.80" y2="534.80" stroke="#000" stroke-width="2"/>
<line x1="689.80" y1="521.00" x2="689.80" y2="503.50" stroke="#000" stroke-width="2"/>
<line x1="680.80" y1="503.50" x2="698.80" y2="503.50" stroke="#000" stroke-width="2"/>
<line x1="689.80" y1="631.52" x2="689.80" y2="638.94" stroke="#000" stroke-width="2"/>
<line x1="680.80" y1="638.94" x2="698.80" y2="638.94" stroke="#000" stroke-width="2"/>
<rect x="673.10" y="587.00" width="33.40" height="44.52" fill="#d7d7d7" stroke="#000" stroke-width="2.0"/>
<line x1="673.10" y1="618.27" x2="706.50" y2="618.27" stroke="#000" stroke-width="2.0"/>
<line x1="539.40" y1="640.00" x2="539.40" y2="644.50" stroke="#000" stroke-width="1.8"/>
<text x="534.90" y="660.50" font-size="12.2" font-weight="bold" text-anchor="end" fill="#1a1a1a" stroke="#1a1a1a" stroke-width="0.35" transform="rotate(-45 534.90 660.50)">MRA-</text>
<line x1="589.20" y1="640.00" x2="589.20" y2="644.50" stroke="#000" stroke-width="1.8"/>
<text x="587.90" y="658.50" font-size="12.2" font-weight="bold" text-anchor="end" fill="#1a1a1a" stroke="#1a1a1a" stroke-width="0.35" transform="rotate(-45 587.90 658.50)">MRA+</text>
<line x1="639.80" y1="640.00" x2="639.80" y2="644.50" stroke="#000" stroke-width="1.8"/>
<text x="642.80" y="653.90" font-size="12.2" font-weight="bold" text-anchor="end" fill="#1a1a1a" stroke="#1a1a1a" stroke-width="0.35" transform="rotate(-45 642.80 653.90)">PET-</text>
<line x1="689.80" y1="640.00" x2="689.80" y2="644.50" stroke="#000" stroke-width="1.8"/>
<text x="693.50" y="654.00" font-size="12.2" font-weight="bold" text-anchor="end" fill="#1a1a1a" stroke="#1a1a1a" stroke-width="0.35" transform="rotate(-45 693.50 654.00)">PET+</text>
<line x1="539.80" y1="498.20" x2="592.40" y2="498.20" stroke="#000" stroke-width="3"/>
<line x1="641.00" y1="497.60" x2="694.00" y2="497.60" stroke="#000" stroke-width="3"/>
<text x="564.50" y="491.60" font-size="11.7" font-weight="normal" text-anchor="middle" fill="#222" stroke="#222" stroke-width="0.2">p = 0.77</text>
<text x="666.30" y="491.20" font-size="11.7" font-weight="normal" text-anchor="middle" fill="#222" stroke="#222" stroke-width="0.2">p = 0.09</text>
<text x="614.50" y="702.40" font-size="13.65" font-weight="bold" text-anchor="middle" fill="#000" stroke="#000" stroke-width="0.1">Imaging-Based Disease Activty</text>
</svg>
</body></html>
